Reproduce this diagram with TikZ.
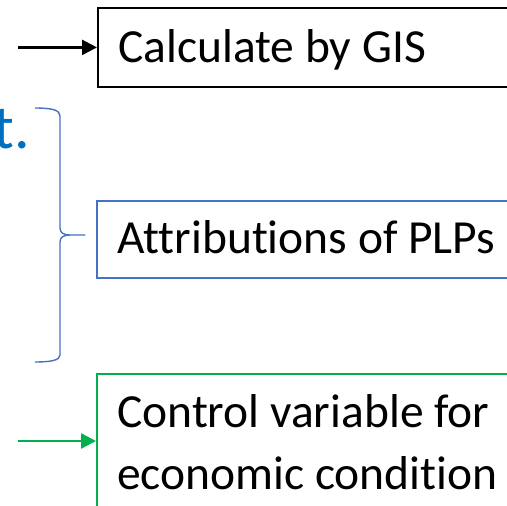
\documentclass[tikz,border=0pt]{standalone}
\usepackage{fontspec}
\setmainfont{Carlito}[Ligatures={NoCommon}]
\usetikzlibrary{arrows.meta}

\definecolor{officeblue}{RGB}{68,114,196}
\definecolor{textblue}{RGB}{0,112,192}
\definecolor{officegreen}{RGB}{0,176,80}

\begin{document}
\begin{tikzpicture}[x=1pt,y=-1pt,
  framebox/.style={draw, rectangle, line width=1.8pt, inner sep=0pt, anchor=north west},
  boxtext/.style={anchor=base west, inner sep=0pt, align=left,
    font=\fontsize{47.5}{62}\selectfont},
  feed/.style={line width=2.3pt, -{Triangle[length=15pt,width=15pt]}},
  bracestyle/.style={draw=officeblue, line width=1.4pt, line join=round}]
  \useasboundingbox (0,0) rectangle (507,506);
  \clip (0,0) rectangle (507,506);

  % tail of the heading sentence
  \node[anchor=base east, inner sep=0pt, text=textblue,
        font=\fontsize{62}{70}\selectfont] (tail) at (30,148) {t.};

  % three result boxes, running off the right edge
  \node[framebox, draw=black, minimum width=480pt, minimum height=79pt] (gisbox) at (97,7) {};
  \node[framebox, draw=officeblue, minimum width=480pt, minimum height=77pt] (plpbox) at (96,200) {};
  \node[framebox, draw=officegreen, minimum width=480pt, minimum height=200pt] (ctrlbox) at (96,373) {};

  \node[boxtext] (gistext) at (118,62) {Calculate by GIS};
  \node[boxtext] (plptext) at (117,253) {Attributions of PLPs};
  % multi-line node: its base is the last line
  \node[boxtext] (ctrltext) at (117,489) {Control variable for\\economic condition};

  % feeding arrows
  \coordinate (gisfrom) at (18,0);
  \coordinate (ctrlfrom) at (18,441);
  \draw[feed, black] (gisfrom |- gisbox.west) -- (gisbox.west);
  \draw[feed, officegreen] (ctrlfrom) -- (ctrlfrom -| ctrlbox.west);

  % right curly brace grouping the attributes
  \coordinate (bracetip) at (85,235);
  \draw[bracestyle] (35,108) .. controls (52,108) and (60,110) .. (60,116)
    -- (60,228) .. controls (60,233) and (64,235) .. (70,235) -- (bracetip)
    -- (70,235) .. controls (64,235) and (60,237) .. (60,242)
    -- (60,355) .. controls (60,360) and (52,362) .. (35,362);
\end{tikzpicture}
\end{document}
